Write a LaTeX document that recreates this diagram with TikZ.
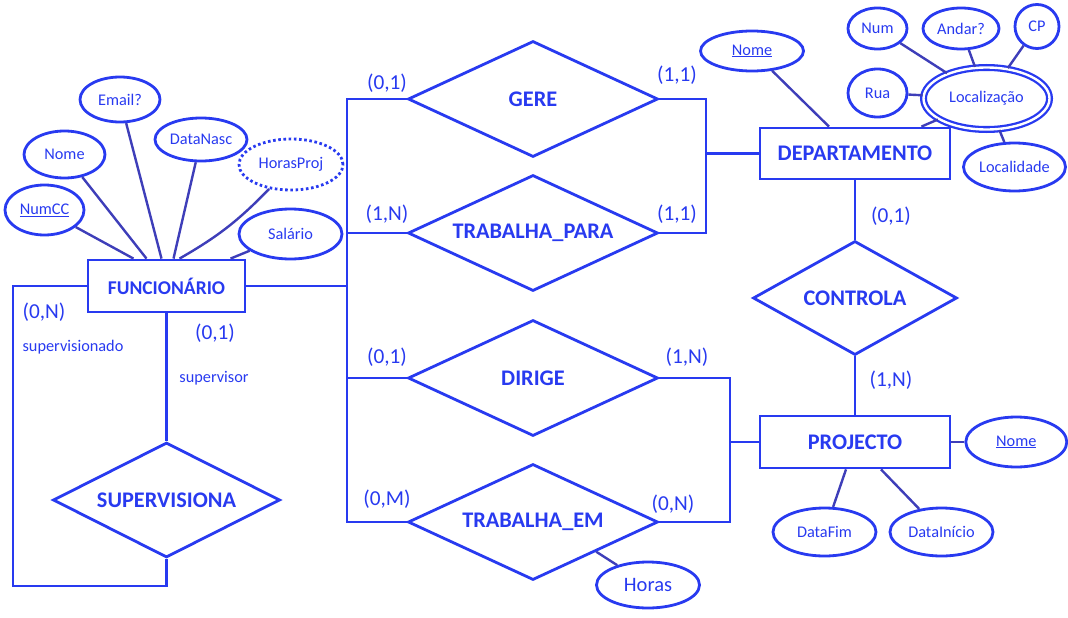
\documentclass[tikz,border=0pt]{standalone}
\usepackage{fontspec}
\setmainfont{Carlito}
\usepackage{tikz}
\usetikzlibrary{positioning}
\usetikzlibrary{shapes.geometric}
\definecolor{erblue}{RGB}{40,58,240}
\definecolor{linkblue}{RGB}{62,62,185}
\tikzset {
  % entity boxes
  entity/.style = {draw=erblue, line width=2.8pt, rectangle, minimum width=190pt, minimum height=51pt, inner sep=0pt, text=erblue, font=\fontsize{22.3}{25}\selectfont\bfseries},
  % relationship diamonds
  rel/.style = {draw=erblue, line width=2.8pt, diamond, shape aspect=2.1, minimum width=250pt, minimum height=116pt, inner sep=0pt, text=erblue, font=\fontsize{22.3}{25}\selectfont\bfseries},
  % attributes
  attr/.style = {draw=erblue, line width=2.8pt, ellipse, minimum width=103pt, minimum height=48pt, inner sep=0pt, text=erblue, font=\fontsize{16.3}{18}\selectfont},
  derived/.style = {dash pattern=on 2.6pt off 2.6pt},
  multi/.style = {double=white, line width=2.3pt, double distance=2.4pt},
  % cardinalities and roles
  card/.style = {inner sep=0pt, text=erblue, font=\fontsize{21.3}{24}\selectfont},
  role/.style = {inner sep=0pt, text=erblue, font=\fontsize{16.3}{18}\selectfont},
  link/.style = {draw=erblue, line width=2.8pt},
  attrlink/.style = {draw=linkblue, line width=2.4pt},
}

\begin{document}
\begin{tikzpicture}[x=1pt, y=-1pt]
  \useasboundingbox (0,0) rectangle (1068,618);

  % entities
  \node[entity, minimum width=157pt, minimum height=52pt, font=\fontsize{19.5}{23}\selectfont\bfseries] (func) at (166.5,286) {FUNCIONÁRIO};
  \node[entity] (dep) at (855,153.5) {DEPARTAMENTO};
  \node[entity, minimum height=52pt] (proj) at (855,442) {PROJECTO};

  % relationships
  \node[rel] (gere) at (533,99) {GERE};
  \node[rel] (trabpara) at (533,233) {TRABALHA\_PARA};
  \node[rel] (dirige) at (533,378) {DIRIGE};
  \node[rel] (trabem) at (533,522) {TRABALHA\_EM};
  \node[rel, minimum width=204pt, minimum height=114pt] (controla) at (855,298) {CONTROLA};
  \node[rel, minimum width=227pt, minimum height=115pt] (superv) at (166.5,500) {SUPERVISIONA};

  % funcionario attributes
  \node[attr, minimum width=80pt, minimum height=45pt] (email) at (120,99.5) {Email?};
  \node[attr, minimum width=81pt, minimum height=47pt] (fnome) at (64.5,154.5) {Nome};
  \node[attr, minimum width=79pt, minimum height=50pt] (numcc) at (44.5,210) {\underline{NumCC}};
  \node[attr, minimum width=92pt, minimum height=43pt] (datanasc) at (201,139.5) {DataNasc};
  \node[attr, derived, minimum width=104pt, minimum height=51pt] (horasproj) at (291,164.5) {HorasProj};
  \node[attr, minimum height=50pt] (salario) at (290.5,234) {Salário};

  % departamento attributes
  \node[attr, minimum width=103pt, minimum height=40pt] (dnome) at (752,51) {\underline{Nome}};
  \node[attr, minimum width=59pt, minimum height=41pt] (num) at (877.5,28.5) {Num};
  \node[attr, minimum width=76pt, minimum height=41pt] (andar) at (961,28.5) {Andar?};
  \node[attr, minimum width=44pt, minimum height=44pt] (cp) at (1037,26.5) {CP};
  \node[attr, minimum width=59pt, minimum height=48pt] (rua) at (877.5,93) {Rua};
  \node[attr, multi, minimum width=126pt, minimum height=62pt] (local) at (986.5,98.5) {Localização};
  \node[attr, minimum width=102pt] (localidade) at (1014.5,167) {Localidade};

  % projecto attributes
  \node[attr, minimum width=101pt, minimum height=50pt, right=13pt of proj] (pnome) {\underline{Nome}};
  \node[attr] (datafim) at (824.5,532) {DataFim};
  \node[attr] (datainicio) at (941.5,532) {DataInício};
  \node[attr, minimum height=46pt, font=\fontsize{20.5}{23}\selectfont] (horas) at (648,585) {Horas};

  % bus lines
  \coordinate (busT) at (347,99);
  \coordinate (busB) at (347,522);
  \coordinate (gr) at (706,99);
  \coordinate (dr) at (730,378);
  \coordinate (loopA) at (13,586);

  \draw[link] (gere.west) -- (busT) -- (busB) -- (trabem.west);
  \draw[link] (trabpara.west) -- (trabpara.west -| busT);
  \draw[link] (dirige.west) -- (dirige.west -| busT);
  \draw[link] (func.east) -- (func.east -| busT);

  \draw[link] (gere.east) -- (gr) |- (trabpara.east);
  \draw[link] (dep.west) -- (dep.west -| gr);
  \draw[link] (dirige.east) -- (dr) |- (trabem.east);
  \draw[link] (proj.west) -- (proj.west -| dr);

  \draw[link] (dep.south) -- (controla.north);
  \draw[link] (controla.south) -- (proj.north);

  \draw[link] (func.south) -- (superv.north);
  \draw[link] (superv.south) |- (loopA) |- (func.west);

  % attribute links
  \draw[attrlink] (numcc) -- ([xshift=-33pt]func.north);
  \draw[attrlink] (fnome) -- ([xshift=-20pt]func.north);
  \draw[attrlink] (email) -- ([xshift=-5pt]func.north);
  \draw[attrlink] (datanasc) -- ([xshift=7pt]func.north);
  \draw[attrlink] (horasproj) to[bend left=8] ([xshift=13pt]func.north);
  \draw[attrlink] (salario) -- ([xshift=64pt]func.north);

  \draw[attrlink] (dnome) -- ([xshift=-26pt]dep.north);
  \draw[attrlink] (local) -- ([xshift=-30pt]dep.north east);
  \draw[attrlink] (num) -- (local);
  \draw[attrlink] (andar) -- (local);
  \draw[attrlink] (cp) -- (local);
  \draw[attrlink] (rua) -- (local);
  \draw[attrlink] (localidade) -- (local);

  \draw[attrlink] (proj) -- (pnome);
  \draw[attrlink] (datafim) -- ([xshift=-9pt]proj.south);
  \draw[attrlink] (datainicio) -- ([xshift=26pt]proj.south);
  \draw[attrlink] (horas) -- (trabem.south east);

  % cardinalities
  \node[card] (c1) at (387,83) {(0,1)};
  \node[card] (c2) at (677,75) {(1,1)};
  \node[card] (c3) at (387,214) {(1,N)};
  \node[card] (c4) at (677,214) {(1,1)};
  \node[card] (c5) at (387,357) {(0,1)};
  \node[card] (c6) at (687,357) {(1,N)};
  \node[card] (c7) at (387,499) {(0,M)};
  \node[card] (c8) at (673,504) {(0,N)};
  \node[card] (c9) at (891,216) {(0,1)};
  \node[card] (c10) at (891,380) {(1,N)};
  \node[card] (c11) at (44,312) {(0,N)};
  \node[card] (c12) at (215,333) {(0,1)};

  % roles
  \node[role] (r1) at (73,347) {supervisionado};
  \node[role] (r2) at (214,378) {supervisor};
\end{tikzpicture}
\end{document}
